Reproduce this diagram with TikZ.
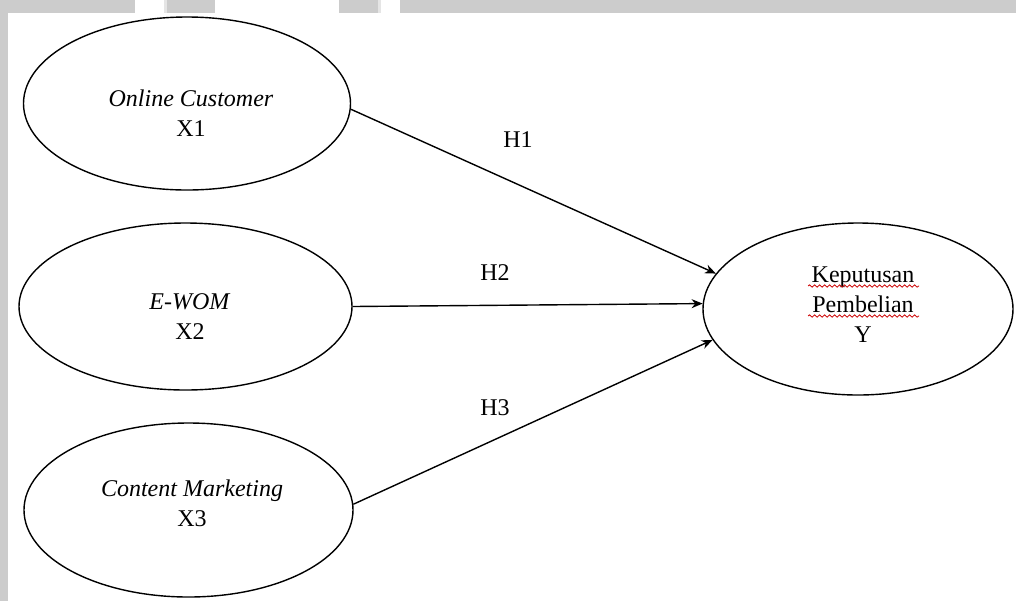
\documentclass[tikz,border=0pt]{standalone}
\usepackage{fontspec}
\setmainfont{Liberation Serif}
\usetikzlibrary{shapes.geometric,arrows.meta,decorations.pathmorphing}

\begin{document}
\begin{tikzpicture}[x=0.5pt, y=-0.5pt,
  var/.style = {draw, shape = ellipse, line width = 0.7pt, inner sep = 0pt},
  txt/.style = {align = center, inner sep = 0pt, font = \fontsize{12}{15}\selectfont},
  link/.style = {-{Stealth[length = 5.5pt, width = 4.5pt]}, line width = 0.7pt},
  spell/.style = {red!80!black, line width = 0.4pt, decorate,
    decoration = {snake, amplitude = 0.6pt, segment length = 2.5pt}}]
\useasboundingbox (0,0) rectangle (1016,601);
% page edges
\fill[gray!40] (0,0) rectangle (135,13);
\fill[gray!40] (167,0) rectangle (215,13);
\fill[gray!20] (164,0) rectangle (167,13);
\fill[gray!40] (339,0) rectangle (378,13);
\fill[gray!20] (378,0) rectangle (381,13);
\fill[gray!40] (400,0) rectangle (1016,13);
\fill[gray!40] (0,0) rectangle (8,601);

\node[var, minimum width = 163.5pt, minimum height = 86.5pt] (x1) at (187,103.5) {};
\node[var, minimum width = 166.5pt, minimum height = 83.5pt] (x2) at (185.5,306.5) {};
\node[var, minimum width = 164.5pt, minimum height = 87pt] (x3) at (188.5,510) {};
\node[var, minimum width = 155pt, minimum height = 86pt] (y) at (858,309) {};

\node[txt] (x1t) at (191,113) {\textit{Online Customer}\\X1};
\node[txt] (x2t) at (190,317) {\textit{E-WOM}\\X2};
\node[txt] (x3t) at (192,503) {\textit{Content Marketing}\\X3};
\node[txt] (yt) at (863,305) {Keputusan\\Pembelian\\Y};

\draw[link] (x1.-2) -- (y.166);
\draw[link] (x2.east) -- (y.178);
\draw[link] (x3.2) -- (y.192);

\node[txt] (h1) at (518,140) {H1};
\node[txt] (h2) at (495,273) {H2};
\node[txt] (h3) at (495,408) {H3};

% spelling marks
\draw[spell] (808,286) -- (919,286);
\draw[spell] (808,316) -- (919,316);
\end{tikzpicture}
\end{document}
